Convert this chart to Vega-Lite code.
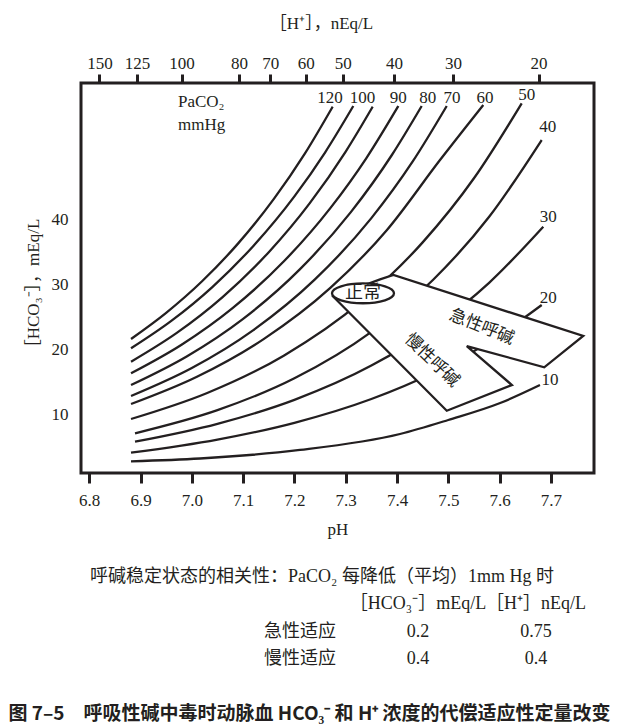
{
  "$schema": "https://vega.github.io/schema/vega-lite/v6.json",
  "width": 513,
  "height": 390,
  "autosize": {"type": "none"},
  "padding": {"left": 81, "top": 83, "right": 26, "bottom": 253},
  "background": "white",
  "config": {
    "view": {"stroke": "#231f20", "strokeWidth": 3},
    "axis": {
      "labelFont": "Liberation Serif",
      "labelFontSize": 17,
      "labelColor": "#231f20",
      "labelFlush": false,
      "labelOverlap": false,
      "titleFont": "Liberation Serif, Noto Sans CJK SC",
      "titleFontSize": 17,
      "titleFontWeight": "normal",
      "titleColor": "#231f20",
      "tickColor": "#231f20",
      "tickWidth": 3,
      "domain": false,
      "grid": false
    }
  },
  "datasets": {
    "curves": [
      {"pco2": 120, "ph": 6.8815, "hco3": 21.65}, {"pco2": 120, "ph": 6.95, "hco3": 25.66}, {"pco2": 120, "ph": 7.02, "hco3": 30.5}, {"pco2": 120, "ph": 7.09, "hco3": 36.27}, {"pco2": 120, "ph": 7.16, "hco3": 43.13}, {"pco2": 120, "ph": 7.22, "hco3": 50.03}, {"pco2": 120, "ph": 7.2746, "hco3": 57.27},
      {"pco2": 110, "ph": 6.8815, "hco3": 20.22}, {"pco2": 110, "ph": 6.96, "hco3": 24.42}, {"pco2": 110, "ph": 7.04, "hco3": 29.61}, {"pco2": 110, "ph": 7.12, "hco3": 35.92}, {"pco2": 110, "ph": 7.2, "hco3": 43.52}, {"pco2": 110, "ph": 7.26, "hco3": 50.28}, {"pco2": 110, "ph": 7.3148, "hco3": 57.37},
      {"pco2": 100, "ph": 6.8815, "hco3": 18.17}, {"pco2": 100, "ph": 6.97, "hco3": 22.55}, {"pco2": 100, "ph": 7.06, "hco3": 28.08}, {"pco2": 100, "ph": 7.15, "hco3": 34.96}, {"pco2": 100, "ph": 7.23, "hco3": 42.48}, {"pco2": 100, "ph": 7.3, "hco3": 50.39}, {"pco2": 100, "ph": 7.3526, "hco3": 57.27},
      {"pco2": 90, "ph": 6.8815, "hco3": 16.39}, {"pco2": 90, "ph": 6.98, "hco3": 20.77}, {"pco2": 90, "ph": 7.08, "hco3": 26.42}, {"pco2": 90, "ph": 7.18, "hco3": 33.6}, {"pco2": 90, "ph": 7.27, "hco3": 41.72}, {"pco2": 90, "ph": 7.34, "hco3": 49.36}, {"pco2": 90, "ph": 7.4025, "hco3": 57.37},
      {"pco2": 80, "ph": 6.8815, "hco3": 14.59}, {"pco2": 80, "ph": 6.99, "hco3": 18.97}, {"pco2": 80, "ph": 7.1, "hco3": 24.74}, {"pco2": 80, "ph": 7.21, "hco3": 32.28}, {"pco2": 80, "ph": 7.31, "hco3": 41.1}, {"pco2": 80, "ph": 7.39, "hco3": 49.86}, {"pco2": 80, "ph": 7.4481, "hco3": 57.37},
      {"pco2": 70, "ph": 6.8815, "hco3": 12.91}, {"pco2": 70, "ph": 7.0, "hco3": 17.2}, {"pco2": 70, "ph": 7.12, "hco3": 23.01}, {"pco2": 70, "ph": 7.24, "hco3": 30.78}, {"pco2": 70, "ph": 7.35, "hco3": 40.18}, {"pco2": 70, "ph": 7.43, "hco3": 48.79}, {"pco2": 70, "ph": 7.4969, "hco3": 57.37},
      {"pco2": 60, "ph": 6.8815, "hco3": 11.68}, {"pco2": 60, "ph": 7.01, "hco3": 15.86}, {"pco2": 60, "ph": 7.14, "hco3": 21.63}, {"pco2": 60, "ph": 7.27, "hco3": 29.48}, {"pco2": 60, "ph": 7.38, "hco3": 38.33}, {"pco2": 60, "ph": 7.4838, "hco3": 49.09}, {"pco2": 60, "ph": 7.5682, "hco3": 57.53},
      {"pco2": 50, "ph": 6.8815, "hco3": 9.38}, {"pco2": 50, "ph": 7.03, "hco3": 13.37}, {"pco2": 50, "ph": 7.18, "hco3": 19.13}, {"pco2": 50, "ph": 7.33, "hco3": 27.37}, {"pco2": 50, "ph": 7.45, "hco3": 36.46}, {"pco2": 50, "ph": 7.55, "hco3": 46.29}, {"pco2": 50, "ph": 7.6431, "hco3": 57.79},
      {"pco2": 40, "ph": 6.8893, "hco3": 7.19}, {"pco2": 40, "ph": 7.05, "hco3": 10.74}, {"pco2": 40, "ph": 7.2, "hco3": 15.63}, {"pco2": 40, "ph": 7.35, "hco3": 22.75}, {"pco2": 40, "ph": 7.47, "hco3": 30.7}, {"pco2": 40, "ph": 7.58, "hco3": 40.43}, {"pco2": 40, "ph": 7.682, "hco3": 52.16},
      {"pco2": 30, "ph": 6.8893, "hco3": 5.9}, {"pco2": 30, "ph": 7.05, "hco3": 8.64}, {"pco2": 30, "ph": 7.2, "hco3": 12.32}, {"pco2": 30, "ph": 7.35, "hco3": 17.57}, {"pco2": 30, "ph": 7.47, "hco3": 23.34}, {"pco2": 30, "ph": 7.58, "hco3": 30.3}, {"pco2": 30, "ph": 7.6852, "hco3": 38.87},
      {"pco2": 20, "ph": 6.8815, "hco3": 4.21}, {"pco2": 20, "ph": 7.05, "hco3": 6.22}, {"pco2": 20, "ph": 7.2, "hco3": 8.8}, {"pco2": 20, "ph": 7.35, "hco3": 12.45}, {"pco2": 20, "ph": 7.47, "hco3": 16.44}, {"pco2": 20, "ph": 7.58, "hco3": 21.21}, {"pco2": 20, "ph": 7.6821, "hco3": 26.86},
      {"pco2": 10, "ph": 6.8815, "hco3": 2.89}, {"pco2": 10, "ph": 7.016, "hco3": 3.32}, {"pco2": 10, "ph": 7.2109, "hco3": 4.63}, {"pco2": 10, "ph": 7.4058, "hco3": 7.08}, {"pco2": 10, "ph": 7.4999, "hco3": 9.23}, {"pco2": 10, "ph": 7.6011, "hco3": 11.83}, {"pco2": 10, "ph": 7.6787, "hco3": 14.59}
    ],
    "region": [
      {"i": 1, "ph": 7.276, "hco3": 28.13},
      {"i": 2, "ph": 7.497, "hco3": 10.65},
      {"i": 3, "ph": 7.624, "hco3": 14.59},
      {"i": 4, "ph": 7.536, "hco3": 20.57},
      {"i": 5, "ph": 7.687, "hco3": 17.31},
      {"i": 6, "ph": 7.763, "hco3": 22.11},
      {"i": 7, "ph": 7.393, "hco3": 31.46},
      {"i": 8, "ph": 7.367, "hco3": 30.8}
    ],
    "curveLabels": [
      {"label": "120", "ph": 7.2694, "hco3": 58.55},
      {"label": "100", "ph": 7.3327, "hco3": 58.55},
      {"label": "90", "ph": 7.4025, "hco3": 58.55},
      {"label": "80", "ph": 7.4598, "hco3": 58.55},
      {"label": "70", "ph": 7.5072, "hco3": 58.55},
      {"label": "60", "ph": 7.5715, "hco3": 58.55},
      {"label": "50", "ph": 7.6528, "hco3": 59.06},
      {"label": "40", "ph": 7.6937, "hco3": 54.2},
      {"label": "30", "ph": 7.6949, "hco3": 40.4},
      {"label": "20", "ph": 7.6949, "hco3": 27.89},
      {"label": "10", "ph": 7.6982, "hco3": 15.36}
    ],
    "table": [
      {"row": "head", "col": "hco3", "text": "［HCO₃⁻］mEq/L"},
      {"row": "head", "col": "h", "text": "［H⁺］nEq/L"},
      {"row": "acute", "col": "label", "text": "急性适应"},
      {"row": "acute", "col": "hco3", "text": "0.2"},
      {"row": "acute", "col": "h", "text": "0.75"},
      {"row": "chronic", "col": "label", "text": "慢性适应"},
      {"row": "chronic", "col": "hco3", "text": "0.4"},
      {"row": "chronic", "col": "h", "text": "0.4"}
    ]
  },
  "layer": [
    {
      "layer": [
        {
          "data": {"name": "curves"},
          "mark": {"type": "line", "interpolate": "monotone", "color": "#231f20", "strokeWidth": 2.3},
          "encoding": {
            "x": {
              "field": "ph", "type": "quantitative",
              "scale": {"domain": [6.784, 7.784], "nice": false, "zero": false},
              "axis": {"orient": "bottom", "values": [6.8, 6.9, 7.0, 7.1, 7.2, 7.3, 7.4, 7.5, 7.6, 7.7], "format": ".1f", "tickSize": 10, "labelPadding": 9, "title": "pH", "titlePadding": 13}
            },
            "y": {
              "field": "hco3", "type": "quantitative",
              "scale": {"domain": [1.1, 60.9], "nice": false, "zero": false},
              "axis": {"orient": "left", "values": [10, 20, 30, 40], "ticks": false, "tickSize": 0, "labelPadding": 13, "title": "［HCO₃⁻］，mEq/L", "titlePadding": 9, "titleY": 204}
            },
            "detail": {"field": "pco2", "type": "nominal"}
          }
        },
        {
          "data": {"name": "region"},
          "mark": {"type": "line", "interpolate": "linear-closed", "fill": "white", "stroke": "#231f20", "strokeWidth": 2.3},
          "encoding": {
            "x": {"field": "ph", "type": "quantitative", "scale": {"domain": [6.784, 7.784], "nice": false, "zero": false}, "axis": null},
            "y": {"field": "hco3", "type": "quantitative", "scale": {"domain": [1.1, 60.9], "nice": false, "zero": false}, "axis": null},
            "order": {"field": "i"}
          }
        },
        {
          "data": {"values": [{"ph": 7.3337, "hco3": 28.65}]},
          "mark": {"type": "point", "shape": "M-1,0A1,0.32,0,1,0,1,0A1,0.32,0,1,0,-1,0Z", "size": 3844, "filled": true, "fill": "white", "stroke": "#231f20", "strokeWidth": 2.3, "opacity": 1},
          "encoding": {
            "x": {"field": "ph", "type": "quantitative", "scale": {"domain": [6.784, 7.784], "nice": false, "zero": false}, "axis": null},
            "y": {"field": "hco3", "type": "quantitative", "scale": {"domain": [1.1, 60.9], "nice": false, "zero": false}, "axis": null}
          }
        },
        {
          "data": {"values": [{"text": "正常", "ph": 7.3337, "hco3": 28.65}]},
          "mark": {"type": "text", "font": "Noto Sans CJK SC", "fontSize": 18, "color": "#231f20", "baseline": "middle"},
          "encoding": {
            "x": {"field": "ph", "type": "quantitative", "scale": {"domain": [6.784, 7.784], "nice": false, "zero": false}, "axis": null},
            "y": {"field": "hco3", "type": "quantitative", "scale": {"domain": [1.1, 60.9], "nice": false, "zero": false}, "axis": null},
            "text": {"field": "text"}
          }
        },
        {
          "data": {"values": [{"text": "急性呼碱", "ph": 7.5651, "hco3": 23.49}]},
          "mark": {"type": "text", "font": "Noto Sans CJK SC", "fontSize": 17, "color": "#231f20", "baseline": "middle", "angle": 22},
          "encoding": {
            "x": {"field": "ph", "type": "quantitative", "scale": {"domain": [6.784, 7.784], "nice": false, "zero": false}, "axis": null},
            "y": {"field": "hco3", "type": "quantitative", "scale": {"domain": [1.1, 60.9], "nice": false, "zero": false}, "axis": null},
            "text": {"field": "text"}
          }
        },
        {
          "data": {"values": [{"text": "慢性呼碱", "ph": 7.4682, "hco3": 18.38}]},
          "mark": {"type": "text", "font": "Noto Sans CJK SC", "fontSize": 17, "color": "#231f20", "baseline": "middle", "angle": 44},
          "encoding": {
            "x": {"field": "ph", "type": "quantitative", "scale": {"domain": [6.784, 7.784], "nice": false, "zero": false}, "axis": null},
            "y": {"field": "hco3", "type": "quantitative", "scale": {"domain": [1.1, 60.9], "nice": false, "zero": false}, "axis": null},
            "text": {"field": "text"}
          }
        },
        {
          "data": {"values": [{"text": "PaCO₂", "ph": 6.973, "hco3": 58.03}, {"text": "mmHg", "ph": 6.973, "hco3": 54.46}]},
          "mark": {"type": "text", "font": "Liberation Serif", "fontSize": 17, "color": "#231f20", "baseline": "middle", "align": "left"},
          "encoding": {
            "x": {"field": "ph", "type": "quantitative", "scale": {"domain": [6.784, 7.784], "nice": false, "zero": false}, "axis": null},
            "y": {"field": "hco3", "type": "quantitative", "scale": {"domain": [1.1, 60.9], "nice": false, "zero": false}, "axis": null},
            "text": {"field": "text"}
          }
        },
        {
          "data": {"name": "curveLabels"},
          "mark": {"type": "text", "font": "Liberation Serif", "fontSize": 17, "color": "#231f20", "baseline": "middle"},
          "encoding": {
            "x": {
              "field": "ph", "type": "quantitative",
              "scale": {"domain": [6.784, 7.784], "nice": false, "zero": false},
              "axis": {
                "orient": "top",
                "values": [6.82, 6.893, 6.98, 7.092, 7.153, 7.222, 7.294, 7.394, 7.509, 7.676],
                "labelExpr": "['150','125','100','80','70','60','50','40','30','20'][indexof([6.82, 6.893, 6.98, 7.092, 7.153, 7.222, 7.294, 7.394, 7.509, 7.676], datum.value)]",
                "tickSize": 9,
                "labelPadding": 2,
                "title": "［H⁺］，nEq/L",
                "titlePadding": 22,
                "titleX": 240
              }
            },
            "y": {"field": "hco3", "type": "quantitative", "scale": {"domain": [1.1, 60.9], "nice": false, "zero": false}, "axis": null},
            "text": {"field": "label"}
          }
        }
      ],
      "resolve": {"axis": {"x": "independent", "y": "independent"}}
    },
    {
      "data": {"name": "table"},
      "mark": {"type": "text", "font": "Liberation Serif, Noto Sans CJK SC", "fontSize": 18, "color": "#231f20", "baseline": "middle"},
      "encoding": {
        "x": {"field": "col", "type": "nominal", "scale": {"type": "point", "domain": ["label", "hco3", "h"], "range": [219, 455], "padding": 0}, "axis": null},
        "y": {"field": "row", "type": "nominal", "scale": {"type": "point", "domain": ["title", "head", "acute", "chronic", "gap", "caption"], "range": [494, 630.5], "padding": 0}, "axis": null},
        "text": {"field": "text"}
      }
    },
    {
      "data": {"values": [{"row": "title", "text": "呼碱稳定状态的相关性：PaCO₂ 每降低（平均）1mm Hg 时"}]},
      "mark": {"type": "text", "font": "Liberation Serif, Noto Sans CJK SC", "fontSize": 18, "color": "#231f20", "baseline": "middle", "dx": -15.5},
      "encoding": {
        "y": {"field": "row", "type": "nominal", "scale": {"type": "point", "domain": ["title", "head", "acute", "chronic", "gap", "caption"], "range": [494, 630.5], "padding": 0}, "axis": null},
        "text": {"field": "text"}
      }
    },
    {
      "data": {"values": [{"row": "caption", "text": "图 7–5　呼吸性碱中毒时动脉血 HCO₃⁻ 和 H⁺ 浓度的代偿适应性定量改变"}]},
      "mark": {"type": "text", "font": "Noto Sans CJK SC", "fontSize": 19, "fontWeight": "bold", "color": "#231f20", "baseline": "middle", "dx": -28},
      "encoding": {
        "y": {"field": "row", "type": "nominal", "scale": {"type": "point", "domain": ["title", "head", "acute", "chronic", "gap", "caption"], "range": [494, 630.5], "padding": 0}, "axis": null},
        "text": {"field": "text"}
      }
    }
  ],
  "resolve": {"scale": {"x": "independent", "y": "independent"}, "axis": {"x": "independent", "y": "independent"}}
}
